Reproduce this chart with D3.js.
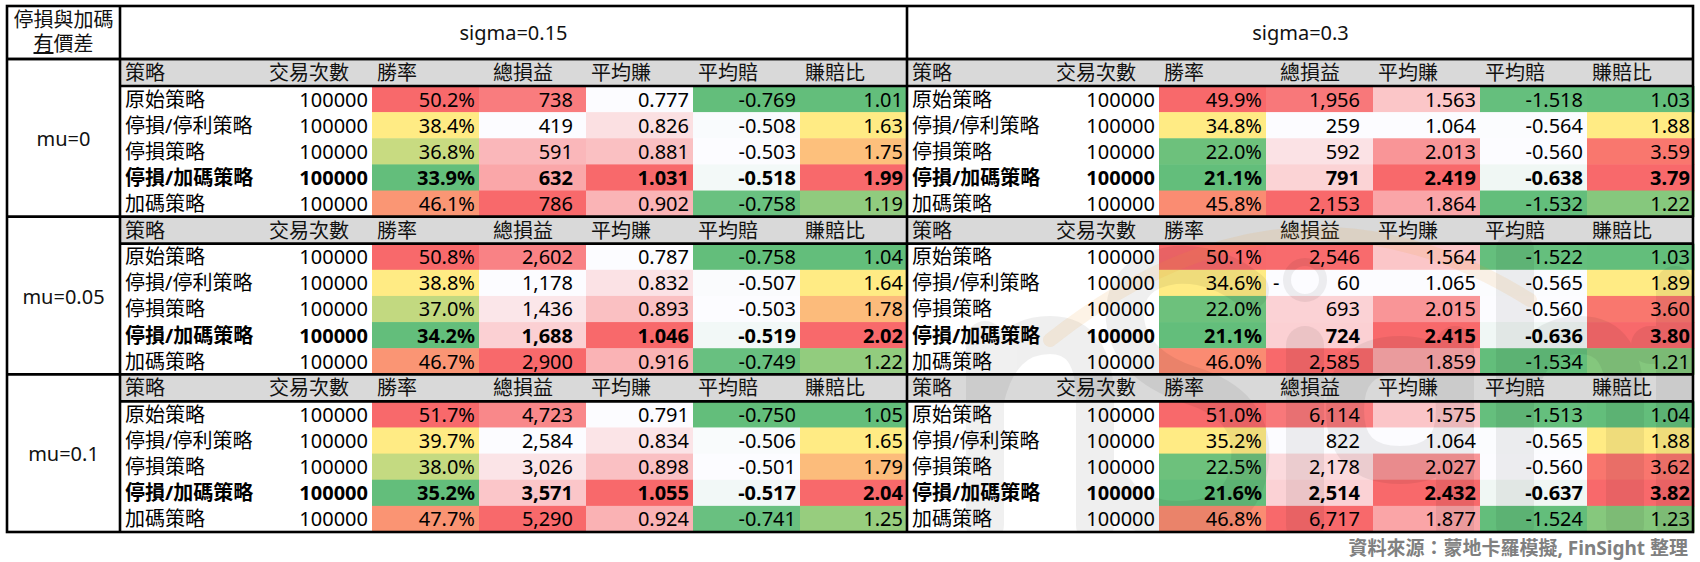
<!DOCTYPE html>
<html>
<head>
<meta charset="utf-8">
<script src="https://cdn.jsdelivr.net/npm/d3@7"></script>
<style>
  body { margin: 0; background: #fff; }
  text { font-family: "Noto Sans", "Noto Sans CJK TC", sans-serif; }
</style>
</head>
<body>
<svg id="chart" width="1700" height="562"></svg>
<script>
// data
var sigmaLabels = ['sigma=0.15', 'sigma=0.3']
var muLabels = ['mu=0', 'mu=0.05', 'mu=0.1']
var strategies = ['原始策略', '停損/停利策略', '停損策略', '停損/加碼策略', '加碼策略']
var headers = ['策略', '交易次數', '勝率', '總損益', '平均賺', '平均賠', '賺賠比']
var trades = 100000

// [sigma][mu][strategy]
var winRate = [
  [[50.2, 38.4, 36.8, 33.9, 46.1], [50.8, 38.8, 37.0, 34.2, 46.7], [51.7, 39.7, 38.0, 35.2, 47.7]],
  [[49.9, 34.8, 22.0, 21.1, 45.8], [50.1, 34.6, 22.0, 21.1, 46.0], [51.0, 35.2, 22.5, 21.6, 46.8]]
]
var totalPnl = [
  [[738, 419, 591, 632, 786], [2602, 1178, 1436, 1688, 2900], [4723, 2584, 3026, 3571, 5290]],
  [[1956, 259, 592, 791, 2153], [2546, -60, 693, 724, 2585], [6114, 822, 2178, 2514, 6717]]
]
var avgWin = [
  [[0.777, 0.826, 0.881, 1.031, 0.902], [0.787, 0.832, 0.893, 1.046, 0.916], [0.791, 0.834, 0.898, 1.055, 0.924]],
  [[1.563, 1.064, 2.013, 2.419, 1.864], [1.564, 1.065, 2.015, 2.415, 1.859], [1.575, 1.064, 2.027, 2.432, 1.877]]
]
var avgLoss = [
  [[-0.769, -0.508, -0.503, -0.518, -0.758], [-0.758, -0.507, -0.503, -0.519, -0.749], [-0.750, -0.506, -0.501, -0.517, -0.741]],
  [[-1.518, -0.564, -0.560, -0.638, -1.532], [-1.522, -0.565, -0.560, -0.636, -1.534], [-1.513, -0.565, -0.560, -0.637, -1.524]]
]
var payoff = [
  [[1.01, 1.63, 1.75, 1.99, 1.19], [1.04, 1.64, 1.78, 2.02, 1.22], [1.05, 1.65, 1.79, 2.04, 1.25]],
  [[1.03, 1.88, 3.59, 3.79, 1.22], [1.03, 1.89, 3.60, 3.80, 1.21], [1.04, 1.88, 3.62, 3.82, 1.23]]
]
var boldRow = 3
var source = '資料來源：蒙地卡羅模擬, FinSight 整理'

// layout
var ctx = {
  left: 7, top: 6, right: 1693, headH: 53, labelW: 113,
  colW: [145, 107, 107, 107, 107, 107, 107],
  groupHeadH: 27, fontSize: 20
}
ctx.blockW = d3.sum(ctx.colW)
ctx.tableTop = ctx.top + ctx.headH
ctx.bottom = 532
ctx.muH = (ctx.bottom - ctx.tableTop) / muLabels.length
ctx.rowH = (ctx.muH - ctx.groupHeadH) / strategies.length

var colEdge = [0].concat(Array.from(d3.cumsum(ctx.colW)))
var headIndent = [5, 4, 5, 14, 5, 5, 5]
var rightPad = [0, 4, 4, 13, 4, 4, 4]

var red = '#F8696B', yellow = '#FFEB84', green = '#63BE7B', white = '#FCFCFF'

var ryg = function (vals) {
  return d3.scaleLinear().domain([d3.min(vals), d3.median(vals), d3.max(vals)]).range([green, yellow, red])
}
var wr = function (vals) {
  return d3.scaleLinear().domain(d3.extent(vals)).range([white, red])
}
var gw = function (vals) {
  return d3.scaleLinear().domain(d3.extent(vals)).range([green, white])
}

var metrics = [
  { values: winRate, scale: ryg, fmt: function (v) { return v.toFixed(1) + '%' } },
  { values: totalPnl, scale: wr, fmt: function (v) { return d3.format(',')(Math.abs(v)) } },
  { values: avgWin, scale: wr, fmt: d3.format('.3f') },
  { values: avgLoss, scale: gw, fmt: function (v) { return '-' + d3.format('.3f')(Math.abs(v)) } },
  { values: payoff, scale: ryg, fmt: d3.format('.2f') }
]

var svg = d3.select('#chart')

var xBlock = d3.scaleBand().domain(sigmaLabels).range([ctx.left + ctx.labelW, ctx.left + ctx.labelW + 2 * ctx.blockW])
var yMu = d3.scaleBand().domain(muLabels).range([ctx.tableTop, ctx.bottom])

// cells
sigmaLabels.forEach(function (sig, s) {
  var bx = xBlock(sig)
  muLabels.forEach(function (mu, m) {
    var by = yMu(mu)
    var g = svg.append('g')

    g.append('rect')
      .attr('x', bx).attr('y', by)
      .attr('width', ctx.blockW).attr('height', ctx.groupHeadH)
      .style('fill', '#D9D9D9')

    headers.forEach(function (h, c) {
      g.append('text')
        .attr('x', bx + colEdge[c] + headIndent[c])
        .attr('y', by + 21)
        .attr('font-size', ctx.fontSize)
        .style('fill', '#111')
        .text(h)
    })

    metrics.forEach(function (mt, k) {
      var vals = mt.values[s][m]
      var color = mt.scale(vals)
      var c = k + 2
      vals.forEach(function (v, r) {
        g.append('rect')
          .attr('x', bx + colEdge[c])
          .attr('y', by + ctx.groupHeadH + r * ctx.rowH)
          .attr('width', ctx.colW[c] + 0.5)
          .attr('height', ctx.rowH + 0.5)
          .style('fill', color(v))
      })
    })
  })
})

// faint logo watermark, drawn as strokes
svg.append('clipPath').attr('id', 'tableClip')
  .append('rect')
  .attr('x', ctx.left).attr('y', ctx.top)
  .attr('width', ctx.right - ctx.left).attr('height', ctx.bottom - ctx.top)
var wm = svg.append('g')
  .attr('clip-path', 'url(#tableClip)')
  .style('opacity', 0.06)
  .style('fill', 'none')
  .style('stroke', '#000')
  .style('stroke-width', 38)
  .style('stroke-linecap', 'round')
var logo = [
  'M985,525 L985,340 M985,400 Q1000,335 1050,335 Q1095,335 1095,400 L1095,525',
  'M1250,290 Q1215,262 1175,265 Q1122,272 1125,320 Q1130,365 1190,385 Q1255,405 1250,460 Q1245,520 1180,520 Q1135,520 1115,490',
  'M1305,345 L1305,525',
  'M1400,355 Q1345,355 1345,410 Q1345,465 1400,465 Q1455,465 1455,410 Q1455,355 1400,355 M1455,345 L1455,560',
  'M1515,250 L1515,525 M1515,400 Q1530,335 1580,335 Q1625,335 1625,400 L1625,525',
  'M1675,285 L1675,525 M1650,345 L1700,345'
]
logo.forEach(function (d) { wm.append('path').attr('d', d) })
wm.append('circle').attr('cx', 1305).attr('cy', 280).attr('r', 4).style('stroke-width', 36)
svg.append('path')
  .attr('d', 'M1050,340 Q1290,150 1530,300')
  .style('fill', 'none')
  .style('stroke', '#F0A030')
  .style('stroke-width', 14)
  .style('stroke-linecap', 'round')
  .style('opacity', 0.12)

// cell texts
sigmaLabels.forEach(function (sig, s) {
  var bx = xBlock(sig)
  muLabels.forEach(function (mu, m) {
    var by = yMu(mu)
    strategies.forEach(function (name, r) {
      var ty = by + ctx.groupHeadH + r * ctx.rowH + 20.5
      var w = r === boldRow ? 700 : 400
      svg.append('text')
        .attr('x', bx + colEdge[0] + 5).attr('y', ty)
        .attr('font-size', ctx.fontSize).attr('font-weight', w)
        .text(name)
      svg.append('text')
        .attr('x', bx + colEdge[2] - rightPad[1]).attr('y', ty)
        .attr('font-size', ctx.fontSize).attr('font-weight', w)
        .attr('text-anchor', 'end')
        .text(trades)
      metrics.forEach(function (mt, k) {
        var c = k + 2
        var v = mt.values[s][m][r]
        svg.append('text')
          .attr('x', bx + colEdge[c + 1] - rightPad[c]).attr('y', ty)
          .attr('font-size', ctx.fontSize).attr('font-weight', w)
          .attr('text-anchor', 'end')
          .text(mt.fmt(v))
        if (k === 1 && v < 0) {
          svg.append('text')
            .attr('x', bx + colEdge[c] + 7).attr('y', ty)
            .attr('font-size', ctx.fontSize).attr('font-weight', w)
            .text('-')
        }
      })
    })
  })
})

// top header
sigmaLabels.forEach(function (sig) {
  svg.append('text')
    .attr('x', xBlock(sig) + ctx.blockW / 2)
    .attr('y', 40)
    .attr('font-size', ctx.fontSize)
    .attr('text-anchor', 'middle')
    .style('fill', '#111')
    .text(sig)
})

var cx = ctx.left + ctx.labelW / 2
svg.append('text')
  .attr('x', cx).attr('y', 27)
  .attr('font-size', ctx.fontSize).attr('text-anchor', 'middle')
  .style('fill', '#111')
  .text('停損與加碼')
var t2 = svg.append('text')
  .attr('x', cx).attr('y', 51)
  .attr('font-size', ctx.fontSize).attr('text-anchor', 'middle')
  .style('fill', '#111')
t2.append('tspan').style('text-decoration', 'underline').text('有')
t2.append('tspan').text('價差')

muLabels.forEach(function (mu) {
  svg.append('text')
    .attr('x', cx)
    .attr('y', yMu(mu) + ctx.muH / 2 + 8)
    .attr('font-size', ctx.fontSize)
    .attr('text-anchor', 'middle')
    .style('fill', '#111')
    .text(mu)
})

// borders
var lw = 2.6
var line = function (x1, y1, x2, y2) {
  svg.append('line')
    .attr('x1', x1).attr('y1', y1).attr('x2', x2).attr('y2', y2)
    .style('stroke', '#000').style('stroke-width', lw)
}
svg.append('rect')
  .attr('x', ctx.left).attr('y', ctx.top)
  .attr('width', ctx.right - ctx.left).attr('height', ctx.bottom - ctx.top)
  .style('fill', 'none').style('stroke', '#000').style('stroke-width', lw)
line(ctx.left, ctx.tableTop, ctx.right, ctx.tableTop)
muLabels.forEach(function (mu) {
  line(ctx.left, yMu(mu), ctx.right, yMu(mu))
  line(ctx.left + ctx.labelW, yMu(mu) + ctx.groupHeadH, ctx.right, yMu(mu) + ctx.groupHeadH)
})
line(ctx.left + ctx.labelW, ctx.top, ctx.left + ctx.labelW, ctx.bottom)
line(xBlock(sigmaLabels[1]), ctx.top, xBlock(sigmaLabels[1]), ctx.bottom)

// source
svg.append('text')
  .attr('x', 1688).attr('y', 555)
  .attr('font-size', 19)
  .attr('font-weight', 700)
  .attr('text-anchor', 'end')
  .style('fill', '#808080')
  .text(source)
</script>
</body>
</html>
